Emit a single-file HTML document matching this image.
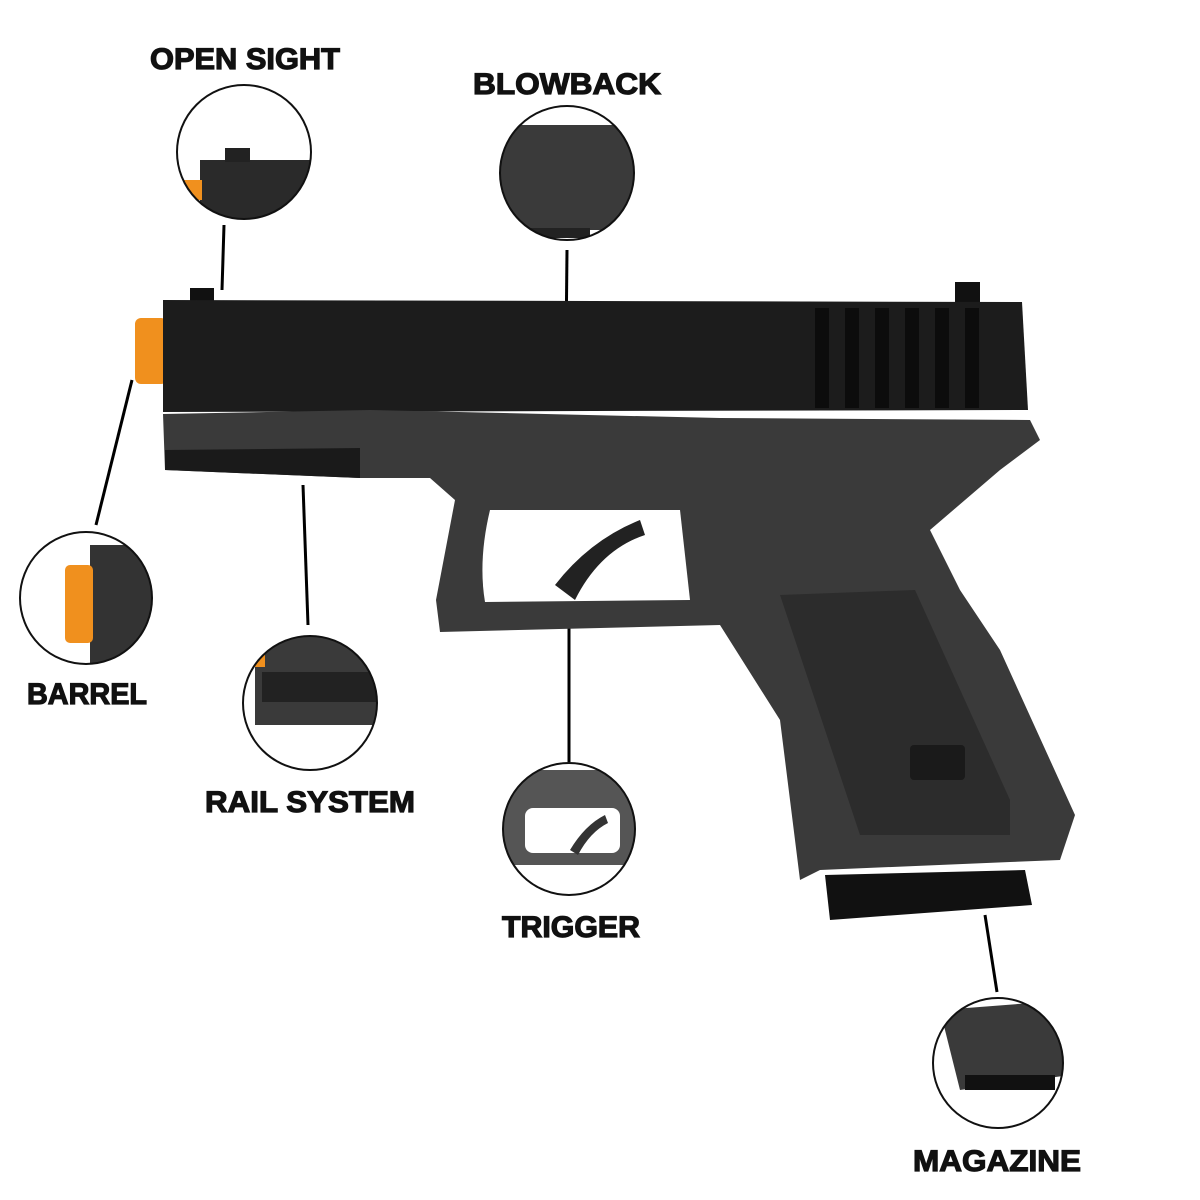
<!DOCTYPE html>
<html><head><meta charset="utf-8"><style>
html,body{margin:0;padding:0;background:#fff;}
svg{display:block;}
text{font-family:"Liberation Sans",sans-serif;font-weight:bold;font-size:30px;fill:#111;stroke:#111;stroke-width:1.2px;}
</style></head><body>
<svg width="1200" height="1200" viewBox="0 0 1200 1200" xmlns="http://www.w3.org/2000/svg">
<defs>
<clipPath id="c1"><circle cx="244" cy="152" r="67"/></clipPath>
<clipPath id="c2"><circle cx="567" cy="173" r="67"/></clipPath>
<clipPath id="c3"><circle cx="86" cy="598" r="66"/></clipPath>
<clipPath id="c4"><circle cx="310" cy="703" r="67"/></clipPath>
<clipPath id="c5"><circle cx="569" cy="829" r="66"/></clipPath>
<clipPath id="c6"><circle cx="998" cy="1063" r="65"/></clipPath>
</defs>
<text x="245" y="69" text-anchor="middle" textLength="190" lengthAdjust="spacingAndGlyphs">OPEN SIGHT</text>
<text x="567" y="94" text-anchor="middle" textLength="188" lengthAdjust="spacingAndGlyphs">BLOWBACK</text>
<text x="87" y="704" text-anchor="middle" textLength="120" lengthAdjust="spacingAndGlyphs">BARREL</text>
<text x="310" y="812" text-anchor="middle" textLength="210" lengthAdjust="spacingAndGlyphs">RAIL SYSTEM</text>
<text x="571" y="937" text-anchor="middle" textLength="138" lengthAdjust="spacingAndGlyphs">TRIGGER</text>
<text x="997" y="1171" text-anchor="middle" textLength="168" lengthAdjust="spacingAndGlyphs">MAGAZINE</text>
<g stroke="#000" stroke-width="3">
<line x1="224" y1="225" x2="222" y2="290"/>
<line x1="567" y1="250" x2="566" y2="350"/>
<line x1="132" y1="380" x2="96" y2="525"/>
<line x1="303" y1="485" x2="308" y2="625"/>
<line x1="569" y1="625" x2="569" y2="762"/>
<line x1="985" y1="915" x2="997" y2="992"/>
</g>
<rect x="135" y="318" width="32" height="66" rx="6" fill="#f0901e"/>
<rect x="190" y="288" width="24" height="14" fill="#111"/>
<rect x="955" y="282" width="25" height="20" fill="#111"/>
<path d="M163 300 L1022 302 L1028 410 L163 412 Z" fill="#1c1c1c"/>
<g fill="#0c0c0c"><rect x="815" y="308" width="14" height="100"/><rect x="845" y="308" width="14" height="100"/><rect x="875" y="308" width="14" height="100"/><rect x="905" y="308" width="14" height="100"/><rect x="935" y="308" width="14" height="100"/><rect x="965" y="308" width="14" height="100"/></g>
<path d="M163 414 L370 410 L720 418 L1030 420 L1040 440 L1000 470 L930 530 L960 590 L1000 650 L1075 815 L1060 860 L1010 862 L820 870 L800 880 L780 720 L720 625 L440 632 L436 600 L455 500 L430 478 L360 478 L165 470 Z" fill="#3a3a3a"/>
<path d="M165 450 L360 448 L360 478 L165 470 Z" fill="#1a1a1a"/>
<path d="M490 510 L680 510 L690 600 L485 602 Q478 560 490 510 Z" fill="#fff"/>
<path d="M555 585 Q590 540 640 520 L645 535 Q600 550 575 600 Z" fill="#222"/>
<path d="M780 595 L915 590 L1010 800 L1010 835 L860 835 Z" fill="#2c2c2c"/>
<rect x="910" y="745" width="55" height="35" rx="4" fill="#1a1a1a"/>
<path d="M825 875 L1025 870 L1032 905 L830 920 Z" fill="#111"/>
<g clip-path="url(#c1)"><rect x="170" y="80" width="150" height="150" fill="#fff"/><rect x="200" y="160" width="130" height="70" fill="#2a2a2a"/><rect x="225" y="148" width="25" height="14" fill="#222"/><rect x="180" y="180" width="22" height="20" fill="#f0901e"/></g>
<circle cx="244" cy="152" r="67" fill="none" stroke="#111" stroke-width="2"/>
<g clip-path="url(#c2)"><rect x="490" y="100" width="160" height="150" fill="#fff"/><rect x="495" y="125" width="145" height="105" fill="#3a3a3a"/><rect x="530" y="228" width="60" height="10" fill="#222"/></g>
<circle cx="567" cy="173" r="67" fill="none" stroke="#111" stroke-width="2"/>
<g clip-path="url(#c3)"><rect x="15" y="530" width="150" height="140" fill="#fff"/><rect x="90" y="545" width="70" height="125" fill="#333"/><rect x="65" y="565" width="28" height="78" rx="5" fill="#f0901e"/></g>
<circle cx="86" cy="598" r="66" fill="none" stroke="#111" stroke-width="2"/>
<g clip-path="url(#c4)"><rect x="240" y="630" width="150" height="150" fill="#fff"/><rect x="255" y="635" width="130" height="90" fill="#3a3a3a"/><rect x="262" y="672" width="120" height="30" fill="#222"/><rect x="255" y="655" width="10" height="12" fill="#f0901e"/></g>
<circle cx="310" cy="703" r="67" fill="none" stroke="#111" stroke-width="2"/>
<g clip-path="url(#c5)"><rect x="500" y="760" width="140" height="140" fill="#fff"/><rect x="500" y="770" width="140" height="95" fill="#555"/><rect x="525" y="808" width="95" height="45" rx="8" fill="#fff"/><path d="M570 850 Q585 825 605 815 L608 823 Q590 832 578 855Z" fill="#333"/></g>
<circle cx="569" cy="829" r="66" fill="none" stroke="#111" stroke-width="2"/>
<g clip-path="url(#c6)"><rect x="930" y="995" width="140" height="140" fill="#fff"/><path d="M940 1010 L1070 1000 L1070 1075 L960 1090 Z" fill="#3a3a3a"/><rect x="965" y="1075" width="90" height="15" fill="#111"/></g>
<circle cx="998" cy="1063" r="65" fill="none" stroke="#111" stroke-width="2"/>
</svg>
</body></html>
